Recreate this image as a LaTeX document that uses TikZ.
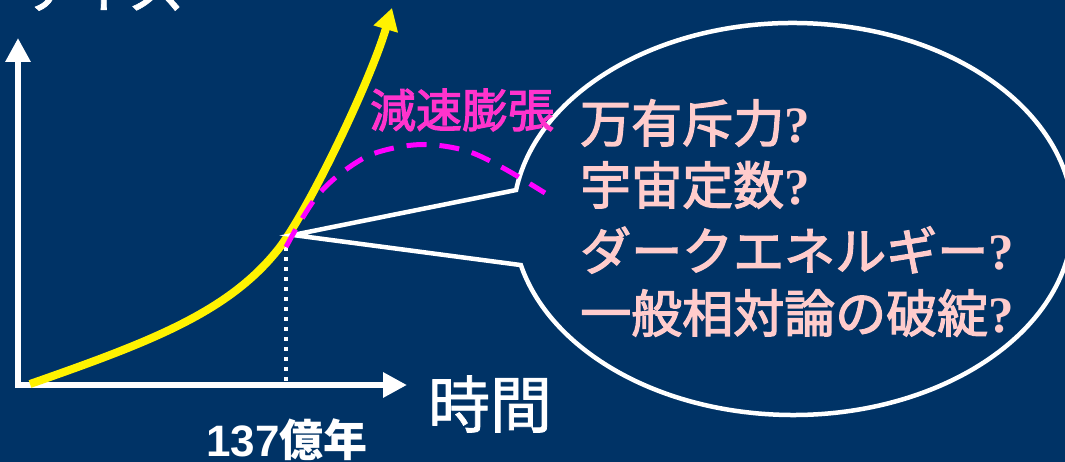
\documentclass[tikz,border=0pt]{standalone}
\usepackage{fontspec}
\usetikzlibrary{arrows.meta,calc}
\newfontfamily\jp{Noto Sans CJK JP}
\newfontfamily\jpm[FakeBold=2.5]{Noto Sans CJK JP}
\newfontfamily\jpl[FakeBold=1.2]{Noto Sans CJK JP}
\newfontfamily\qs{Liberation Serif}
\newfontfamily\arialf{Liberation Sans}
\definecolor{bgblue}{RGB}{0,51,102}
\definecolor{qpink}{RGB}{255,204,204}
\definecolor{decpink}{RGB}{255,51,204}
\definecolor{dashmag}{RGB}{255,0,255}
\newcommand{\qm}{{\qs\bfseries ?}}
\begin{document}
\begin{tikzpicture}[x=1pt,y=1pt,
  axisline/.style={draw=white,line width=6pt,arrows={Triangle[width=24pt,length=24pt]-Triangle[width=24pt,length=24pt]}},
  growth/.style={draw=yellow,line width=8pt,-{Triangle[width=24pt,length=22pt]}},
  decel/.style={draw=dashmag,line width=5pt,dash pattern=on 20pt off 13pt},
  todayline/.style={draw=white,line width=4pt,dash pattern=on 4pt off 6pt},
  bubble/.style={draw=white,line width=4.5pt,line join=miter},
  qtext/.style={text=qpink,font=\jpm\fontsize{51}{51}\selectfont,inner sep=0pt,anchor=west},
  lbl/.style={text=white,inner sep=0pt}]
\fill[bgblue] (0,0) rectangle (1065,462);
\useasboundingbox (0,0) rectangle (1065,462);
% axes
\coordinate (O) at (18,77);
\coordinate (ytip) at (18,424);
\coordinate (xtip) at (407,77);
\draw[axisline] (ytip) |- (xtip);
% axis labels
\node[lbl,font=\jpl\fontsize{58}{58}\selectfont,anchor=base] (size) at (100,454) {サイズ};
\node[lbl,font=\jpl\fontsize{62}{62}\selectfont] (time) at (490,58) {時間};
\node[lbl,font=\bfseries\fontsize{44}{44}\selectfont] (age) at (287,22) {{\arialf\bfseries 137}{\jp\bfseries 億年}};
% today line
\coordinate (today) at (286,215);
\coordinate (todayaxis) at (286,77);
\draw[todayline] (today) -- (todayaxis);
% growth curve
\coordinate (g0) at (30,78);
\coordinate (g1) at (280,215);
\coordinate (g2) at (392,454);
\draw[growth] (g0) .. controls (150,120) and (230,150) .. (g1) .. controls (310,255) and (370,380) .. (g2);
% bubble
\coordinate (c) at (793,243);
\coordinate (tip) at (293,227);
\coordinate (p1) at ($(c)+(171.5:280pt and 196pt)$);
\draw[bubble] (tip) -- (p1) arc[start angle=171.5,end angle=-166.4,x radius=280pt,y radius=196pt] -- cycle;
% deceleration curve
\draw[decel] plot[smooth,tension=0.55] coordinates {(286,215) (300,240) (318,267) (340,288) (370,307) (405,316) (435,317) (470,310) (505,293) (545,269)};
\node[text=decpink,font=\jpm\fontsize{46}{46}\selectfont,inner sep=0pt] (dec) at (462,352) {減速膨張};
% bubble text
\node[qtext] (q1) at (580,339) {万有斥力\qm};
\node[qtext] (q2) at (580,277) {宇宙定数\qm};
\node[qtext] (q3) at (580,212) {ダークエネルギー\qm};
\node[qtext] (q4) at (580,149) {一般相対論の破綻\qm};
\end{tikzpicture}
\end{document}
